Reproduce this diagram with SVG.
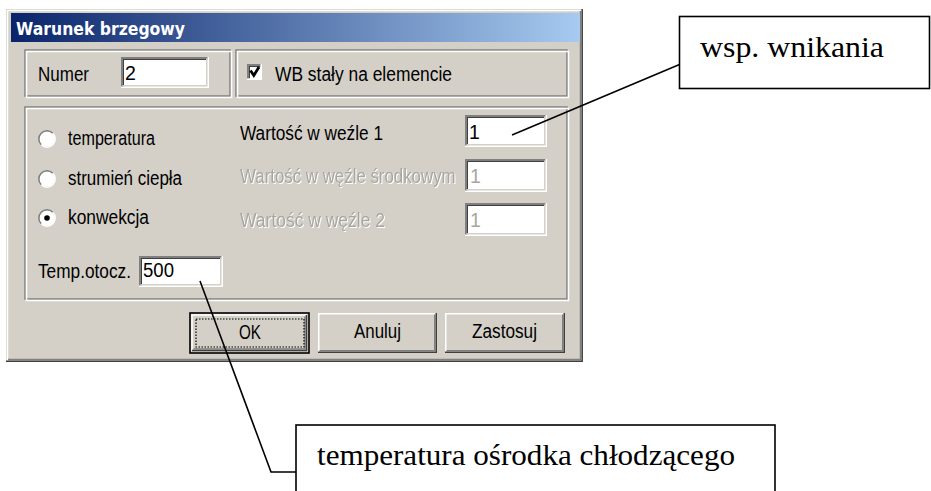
<svg xmlns="http://www.w3.org/2000/svg" width="931" height="491" viewBox="0 0 931 491">
  <defs>
    <linearGradient id="titleGrad" x1="0" y1="0" x2="1" y2="0">
      <stop offset="0" stop-color="#0a246a"/>
      <stop offset="1" stop-color="#a6caf0"/>
    </linearGradient>
    <!-- white etched shadow under disabled captions -->
    <filter id="etched" x="-5%" y="-30%" width="110%" height="160%">
      <feOffset in="SourceAlpha" dx="1" dy="1" result="off"/>
      <feFlood flood-color="#ffffff"/>
      <feComposite in2="off" operator="in" result="white"/>
      <feMerge>
        <feMergeNode in="white"/>
        <feMergeNode in="SourceGraphic"/>
      </feMerge>
    </filter>
  </defs>
  <style>
    .ui { font-family: "Liberation Sans", Arial, sans-serif; font-size: 19.5px; fill: #000; }
    .dis { font-family: "Liberation Sans", Arial, sans-serif; font-size: 19.5px; fill: #a8a6a0; }
    .title { font-family: "DejaVu Sans", Verdana, sans-serif; font-weight: bold; font-size: 18px; fill: #ffffff; }
    .note { font-family: "Liberation Serif", "Times New Roman", serif; font-size: 30px; fill: #000; }
    .hl { fill: none; stroke: #ffffff; stroke-width: 1.5; }
    .sh { fill: none; stroke: #808080; stroke-width: 1.5; }
    .dk { fill: none; stroke: #404040; stroke-width: 1.5; }
    .fc { fill: none; stroke: #d4d0c8; stroke-width: 1.5; }
    .field { fill: #ffffff; }
    .callout { fill: #ffffff; stroke: #000; stroke-width: 1.6; }
    .wire { fill: none; stroke: #000; stroke-width: 1.6; }
  </style>

  <!-- dialog window -->
  <g id="dialog">
    <rect x="6" y="9" width="577" height="353" fill="#d4d0c8"/>
    <polyline class="hl" points="7.5,361 7.5,10.5 582,10.5"/>
    <polyline class="dk" points="6,361.2 582.2,361.2 582.2,9"/>
    <polyline class="sh" points="8,359.5 580.5,359.5 580.5,11"/>
    <rect x="11" y="13" width="569" height="29" fill="url(#titleGrad)"/>
    <text class="title" x="16" y="34.5" textLength="169" lengthAdjust="spacingAndGlyphs">Warunek brzegowy</text>
  </g>

  <!-- group: Numer -->
  <g id="group-numer">
    <rect class="sh" x="25" y="50" width="205" height="46"/>
    <rect class="hl" x="26.5" y="51.5" width="205" height="46"/>
    <text class="ui" x="38" y="81" textLength="51" lengthAdjust="spacingAndGlyphs">Numer</text>
    <rect class="field" x="121" y="57" width="88" height="31"/>
    <polyline class="sh" points="121.75,88 121.75,57.75 209,57.75"/>
    <polyline class="dk" points="123.25,86.5 123.25,59.25 207.5,59.25"/>
    <polyline class="hl" points="121,87.25 208.25,87.25 208.25,57"/>
    <polyline class="fc" points="122.5,85.75 206.75,85.75 206.75,58.5"/>
    <text class="ui" x="125" y="80">2</text>
  </g>

  <!-- group: checkbox -->
  <g id="group-check">
    <rect class="sh" x="236" y="50" width="331" height="46"/>
    <rect class="hl" x="237.5" y="51.5" width="331" height="46"/>
    <rect class="field" x="247" y="64" width="15" height="16"/>
    <polyline class="sh" points="247.75,80 247.75,64.75 262,64.75"/>
    <polyline class="dk" points="249.25,78.5 249.25,66.25 260.5,66.25"/>
    <polyline class="hl" points="247,79.25 261.25,79.25 261.25,64"/>
    <polyline points="250.5,70.5 253.8,75.5 259,67" fill="none" stroke="#000" stroke-width="2.8"/>
    <text class="ui" x="275" y="81" textLength="177" lengthAdjust="spacingAndGlyphs">WB stały na elemencie</text>
  </g>

  <!-- group: boundary condition type and values -->
  <g id="group-values">
    <rect class="sh" x="25" y="107" width="542" height="192"/>
    <rect class="hl" x="26.5" y="108.5" width="542" height="192"/>

    <!-- radio buttons -->
    <g id="radio-temperatura">
      <circle cx="47" cy="139" r="7.5" fill="#ffffff"/>
      <path d="M41.2,144.8 A8.2,8.2 0 0 1 52.8,133.2" class="sh"/>
      <path d="M52.8,133.2 A8.2,8.2 0 0 1 41.2,144.8" class="hl"/>
      <text class="ui" x="68" y="145" textLength="87" lengthAdjust="spacingAndGlyphs">temperatura</text>
    </g>
    <g id="radio-strumien">
      <circle cx="47" cy="179" r="7.5" fill="#ffffff"/>
      <path d="M41.2,184.8 A8.2,8.2 0 0 1 52.8,173.2" class="sh"/>
      <path d="M52.8,173.2 A8.2,8.2 0 0 1 41.2,184.8" class="hl"/>
      <text class="ui" x="68" y="185" textLength="114" lengthAdjust="spacingAndGlyphs">strumień ciepła</text>
    </g>
    <g id="radio-konwekcja">
      <circle cx="47" cy="218" r="7.5" fill="#ffffff"/>
      <path d="M41.2,223.8 A8.2,8.2 0 0 1 52.8,212.2" class="sh"/>
      <path d="M52.8,212.2 A8.2,8.2 0 0 1 41.2,223.8" class="hl"/>
      <circle cx="47" cy="218" r="2.8" fill="#000"/>
      <text class="ui" x="68" y="224" textLength="81" lengthAdjust="spacingAndGlyphs">konwekcja</text>
    </g>

    <!-- value 1 -->
    <g id="value-1">
      <text class="ui" x="240" y="140" textLength="143" lengthAdjust="spacingAndGlyphs">Wartość w weźle 1</text>
      <rect class="field" x="465" y="115" width="82" height="32"/>
      <polyline class="sh" points="465.75,147 465.75,115.75 547,115.75"/>
      <polyline class="dk" points="467.25,145.5 467.25,117.25 545.5,117.25"/>
      <polyline class="hl" points="465,146.25 546.25,146.25 546.25,115"/>
      <polyline class="fc" points="466.5,144.75 544.75,144.75 544.75,116.5"/>
      <text class="ui" x="469" y="139">1</text>
    </g>

    <!-- value middle (disabled) -->
    <g id="value-mid">
      <text class="dis" filter="url(#etched)" transform="scale(0.864,1)" x="277.8" y="183">Wartość w węźle środkowym</text>
      <rect class="field" x="465" y="159" width="82" height="33"/>
      <polyline class="sh" points="465.75,192 465.75,159.75 547,159.75"/>
      <polyline class="dk" points="467.25,190.5 467.25,161.25 545.5,161.25"/>
      <polyline class="hl" points="465,191.25 546.25,191.25 546.25,159"/>
      <polyline class="fc" points="466.5,189.75 544.75,189.75 544.75,160.5"/>
      <text class="dis" x="470" y="183">1</text>
    </g>

    <!-- value 2 (disabled) -->
    <g id="value-2">
      <text class="dis" filter="url(#etched)" x="240" y="227" textLength="145" lengthAdjust="spacingAndGlyphs">Wartość w węźle 2</text>
      <rect class="field" x="465" y="203" width="82" height="33"/>
      <polyline class="sh" points="465.75,236 465.75,203.75 547,203.75"/>
      <polyline class="dk" points="467.25,234.5 467.25,205.25 545.5,205.25"/>
      <polyline class="hl" points="465,235.25 546.25,235.25 546.25,203"/>
      <polyline class="fc" points="466.5,233.75 544.75,233.75 544.75,204.5"/>
      <text class="dis" x="470" y="227">1</text>
    </g>

    <!-- ambient temperature -->
    <g id="temp-otocz">
      <text class="ui" x="38" y="278" textLength="93" lengthAdjust="spacingAndGlyphs">Temp.otocz.</text>
      <rect class="field" x="139" y="256" width="84" height="31"/>
      <polyline class="sh" points="139.75,287 139.75,256.75 223,256.75"/>
      <polyline class="dk" points="141.25,285.5 141.25,258.25 221.5,258.25"/>
      <polyline class="hl" points="139,286.25 222.25,286.25 222.25,256"/>
      <polyline class="fc" points="140.5,284.75 220.75,284.75 220.75,257.5"/>
      <text class="ui" x="143" y="277" textLength="31" lengthAdjust="spacingAndGlyphs">500</text>
    </g>
  </g>

  <!-- buttons -->
  <g id="btn-ok">
    <rect x="190" y="313" width="119" height="40" fill="#d4d0c8" stroke="#000" stroke-width="1.6"/>
    <polyline class="hl" points="192,351 192,315 307,315"/>
    <polyline class="dk" points="192,350.5 306.5,350.5 306.5,315"/>
    <polyline class="sh" points="193.5,349 305,349 305,316.5"/>
    <rect x="196" y="319" width="108" height="28" fill="none" stroke="#000" stroke-width="1.2" stroke-dasharray="1.5 1.5"/>
    <text class="ui" x="250" y="339" text-anchor="middle" textLength="22" lengthAdjust="spacingAndGlyphs">OK</text>
  </g>
  <g id="btn-anuluj">
    <rect x="318" y="313" width="119" height="40" fill="#d4d0c8"/>
    <polyline class="hl" points="318.75,352 318.75,313.75 436,313.75"/>
    <polyline class="dk" points="318,352.25 436.25,352.25 436.25,313"/>
    <polyline class="sh" points="319.5,350.75 434.75,350.75 434.75,314.5"/>
    <text class="ui" x="377.5" y="338" text-anchor="middle" textLength="47" lengthAdjust="spacingAndGlyphs">Anuluj</text>
  </g>
  <g id="btn-zastosuj">
    <rect x="445" y="313" width="120" height="40" fill="#d4d0c8"/>
    <polyline class="hl" points="445.75,352 445.75,313.75 564,313.75"/>
    <polyline class="dk" points="445,352.25 564.25,352.25 564.25,313"/>
    <polyline class="sh" points="446.5,350.75 562.75,350.75 562.75,314.5"/>
    <text class="ui" x="504.5" y="338" text-anchor="middle" textLength="65" lengthAdjust="spacingAndGlyphs">Zastosuj</text>
  </g>

  <!-- callouts -->
  <g id="note-wnikania">
    <rect class="callout" x="679.5" y="16.5" width="250" height="72"/>
    <text class="note" x="700" y="57" textLength="184" lengthAdjust="spacingAndGlyphs">wsp. wnikania</text>
  </g>
  <g id="note-temperatura">
    <rect class="callout" x="296" y="425" width="479" height="80"/>
    <text class="note" x="317" y="465" textLength="418" lengthAdjust="spacingAndGlyphs">temperatura ośrodka chłodzącego</text>
  </g>

  <!-- connectors -->
  <g id="connectors">
    <line class="wire" x1="512" y1="135" x2="679.5" y2="64.5"/>
    <polyline class="wire" points="200,281 271,472 296,472"/>
  </g>
</svg>
